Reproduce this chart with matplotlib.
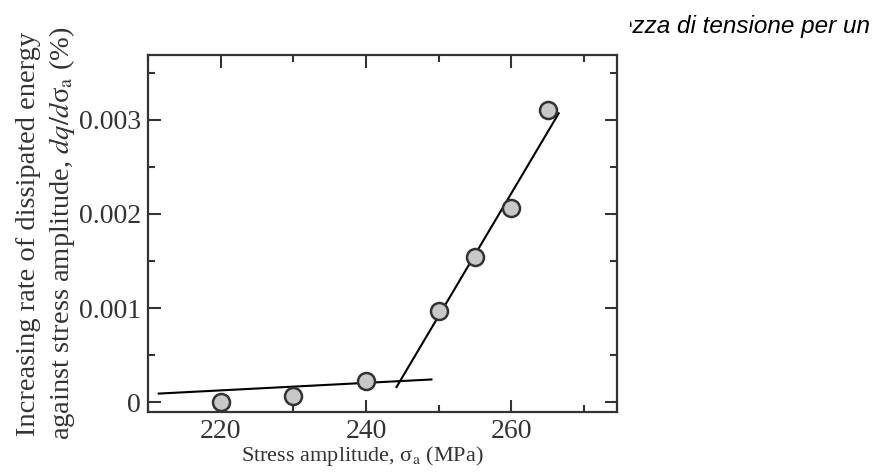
import matplotlib
matplotlib.use("Agg")
import matplotlib.pyplot as plt
from matplotlib.ticker import MultipleLocator

# measured points
stress = [220, 230, 240, 250, 255, 260, 265]
rate = [0.00000, 0.00006, 0.00022, 0.00097, 0.00154, 0.00206, 0.00311]

# two fitted lines (end points)
low_x = [211.5, 249.0]
low_y = [0.00009, 0.00024]
high_x = [244.2, 266.5]
high_y = [0.00016, 0.00307]

plt.rcParams["font.family"] = ["Liberation Serif", "DejaVu Serif"]
plt.rcParams["mathtext.fontset"] = "stix"

fig = plt.figure(figsize=(8.8, 4.75), dpi=100)
ax = fig.add_axes([0.168, 0.1326, 0.533, 0.7515])

ax.plot(low_x, low_y, color="black", lw=1.5, zorder=2)
ax.plot(high_x, high_y, color="black", lw=1.5, zorder=2)
ax.scatter(stress, rate, s=150, facecolor="#c8c8c8", edgecolor="#333333",
           linewidth=1.8, zorder=3)

ax.set_xlim(210, 274.5)
ax.set_ylim(-0.000106, 0.00369)
ax.xaxis.set_major_locator(MultipleLocator(20))
ax.xaxis.set_minor_locator(MultipleLocator(10))
ax.yaxis.set_major_locator(MultipleLocator(0.001))
ax.yaxis.set_minor_locator(MultipleLocator(0.0005))
ax.set_yticks([0, 0.001, 0.002, 0.003])
ax.set_yticklabels(["0", "0.001", "0.002", "0.003"])

ax.tick_params(which="both", direction="in", top=True, right=True,
               width=1.5, labelsize=20, colors="#333333")
ax.tick_params(which="major", length=9)
ax.tick_params(axis="x", which="major", pad=5)
ax.tick_params(axis="y", which="major", pad=5)
ax.tick_params(which="minor", length=5)
for sp in ax.spines.values():
    sp.set_linewidth(1.6)
    sp.set_color("#333333")

ax.set_xlabel("Stress amplitude, σ$_{\\rm a}$ (MPa)", fontsize=16,
              color="#333333")
ax.xaxis.set_label_coords(0.458, -0.09)
ax.set_ylabel("Increasing rate of dissipated energy\n"
              "against stress amplitude, $dq/d$σ$_{\\rm a}$ (%)",
              fontsize=20.5, color="#333333", linespacing=1.3)
ax.yaxis.set_label_coords(-0.15, 0.5)

# cut-off caption in the top right corner
cap = fig.add_axes([630 / 880, 0.88, 250 / 880, 0.12])
cap.axis("off")
cap.set_xlim(630, 880)
cap.set_ylim(0, 1)
t = cap.text(870, 0.53, "ezza di tensione per un", ha="right", va="center",
             fontsize=17.5, style="italic", family="Liberation Sans")
t.set_clip_box(cap.bbox)
t.set_clip_on(True)

fig.savefig("out.png", dpi=100)
